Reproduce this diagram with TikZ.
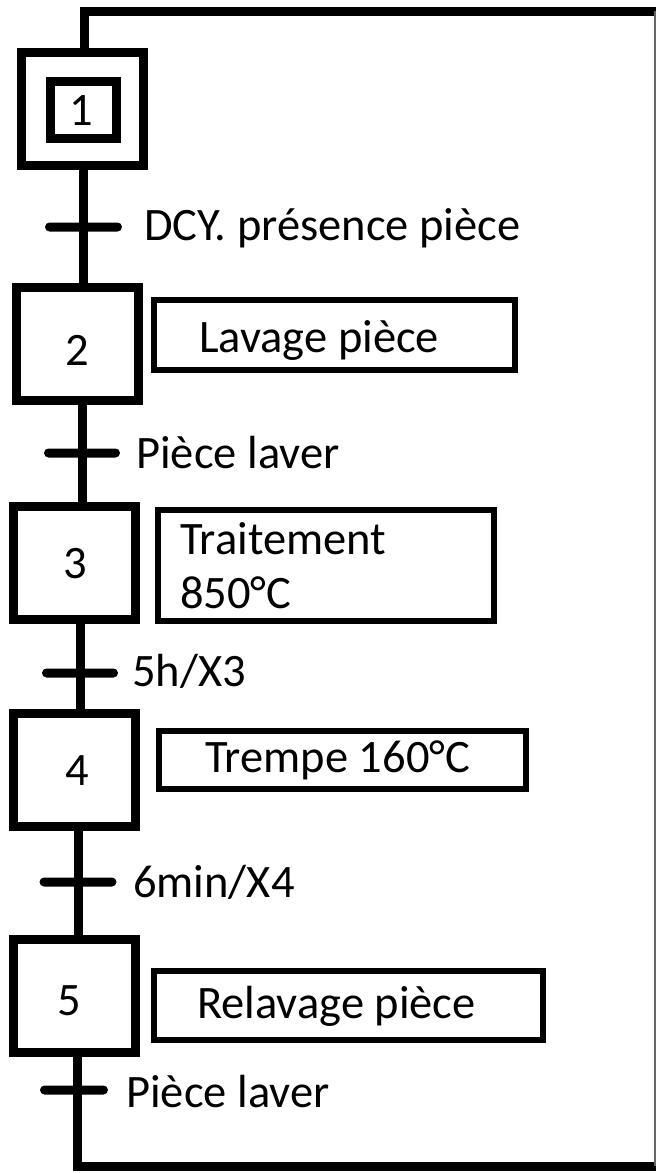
\documentclass[tikz,border=0pt]{standalone}
\usepackage{fontspec}
\setmainfont{Carlito}
\begin{document}
\begin{tikzpicture}[x=1pt,y=-1pt,
  bigfont/.style={font=\fontsize{46.5}{55}\selectfont},
  stepbox/.style={draw, line width=9pt, minimum width=122pt, minimum height=113pt, inner sep=0pt},
  initbox/.style={draw, line width=9pt, minimum width=66pt, minimum height=57pt, inner sep=0pt},
  num/.style={inner sep=0pt, bigfont},
  actbox/.style={draw, line width=6pt, inner sep=0pt},
  tbar/.style={fill=black, rounded corners=4.5pt, minimum height=9pt, inner sep=0pt},
  lbl/.style={anchor=base west, inner sep=0pt, bigfont},
  link/.style={line width=9pt},
  thinlink/.style={line width=1.5pt, black!60},
]
\useasboundingbox (0,0) rectangle (656,1173);

% steps
\node[stepbox] (s1) at (82.5,109) {};
\node[initbox] (s1i) at (83.5,110) {};
\node[num] (n1) at (81,111) {1};
\node[stepbox] (s2) at (77.5,344) {};
\node[num] (n2) at (77.5,350) {2};
\node[stepbox] (s3) at (74.5,563) {};
\node[num] (n3) at (75,564) {3};
\node[stepbox] (s4) at (74,769.5) {};
\node[num] (n4) at (77,771) {4};
\node[stepbox] (s5) at (74.5,996) {};
\node[num] (n5) at (69,1001) {5};

% actions
\node[actbox, minimum width=361pt, minimum height=70pt] (a2) at (334.5,335) {};
\node[lbl] (a2t) at (199,352) {Lavage pièce};
\node[actbox, minimum width=336pt, minimum height=111pt] (a3) at (326,565.5) {};
\node[lbl] (a3t1) at (180,554) {Traitement};
\node[lbl] (a3t2) at (180,608) {850°C};
\node[actbox, minimum width=367pt, minimum height=58pt] (a4) at (342.5,760) {};
\node[lbl] (a4t) at (205,772) {Trempe 160°C};
\node[actbox, minimum width=389pt, minimum height=69pt] (a5) at (348.5,1005.5) {};
\node[lbl] (a5t) at (197,1018) {Relavage pièce};

% line x positions
\coordinate (x1) at (83,0);
\coordinate (x2) at (82,0);
\coordinate (x3) at (80,0);
\coordinate (x4) at (78,0);
\coordinate (x5) at (77,0);

% loop corners
\coordinate (topL) at (84,11);
\coordinate (topR) at (656,11);
\coordinate (botR) at (656,1166);
\coordinate (botL) at (77,1166);
\coordinate (rTop) at (655,11);
\coordinate (rBot) at (655,1166);

% links
\draw[link] (topL |- s1.north) -- (topL) -- (topR);
\draw[link] (x1 |- s1.south) -- (x1 |- s2.north);
\draw[link] (x2 |- s2.south) -- (x2 |- s3.north);
\draw[link] (x3 |- s3.south) -- (x3 |- s4.north);
\draw[link] (x4 |- s4.south) -- (x4 |- s5.north);
\draw[link] (x5 |- s5.south) -- (botL) -- (botR);
\draw[thinlink] (rTop) -- (rBot);

% transitions
\node[tbar, minimum width=77pt] (t1) at (83.5,227) {};
\node[lbl] (t1l) at (144,240) {DCY. présence pièce};
\node[tbar, minimum width=76pt] (t2) at (82,453) {};
\node[lbl] (t2l) at (136,468) {Pièce laver};
\node[tbar, minimum width=76pt] (t3) at (80,673) {};
\node[lbl] (t3l) at (132,686) {5h/X3};
\node[tbar, minimum width=77pt] (t4) at (78,882) {};
\node[lbl] (t4l) at (133,897) {6min/X4};
\node[tbar, minimum width=68pt] (t5) at (74,1090) {};
\node[lbl] (t5l) at (126,1107) {Pièce laver};
\end{tikzpicture}
\end{document}
